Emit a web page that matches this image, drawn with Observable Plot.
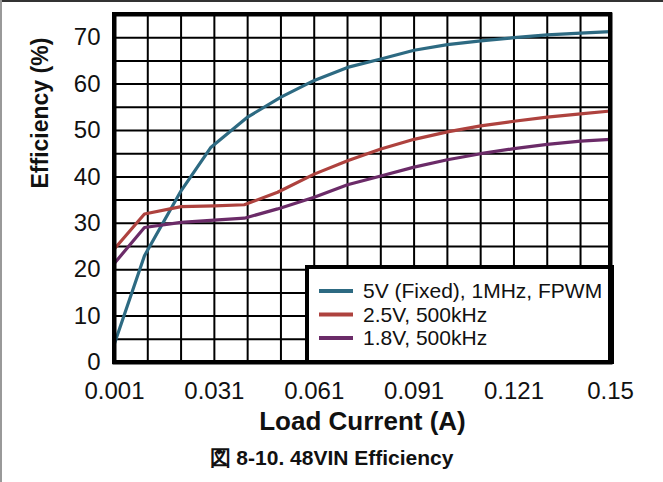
<!DOCTYPE html>
<html>
<head>
<meta charset="utf-8">
<script src="https://cdn.jsdelivr.net/npm/d3@7"></script>
<script src="https://cdn.jsdelivr.net/npm/@observablehq/plot@0.6"></script>
<style>
  html, body { margin: 0; padding: 0; background: white; }
  body { width: 663px; height: 482px; position: relative; overflow: hidden; font-family: "Liberation Sans", Arial, sans-serif; }
  #topline { position: absolute; left: 0; top: 0; width: 663px; height: 2px; background: #333; }
  #leftline { position: absolute; left: 0; top: 0; width: 2px; height: 482px; background: #999; }
  #caption { position: absolute; left: 0; top: 446px; width: 663px; text-align: center; font-weight: bold; font-size: 21px; line-height: 24px; color: #111; }
</style>
</head>
<body>
<div id="chart"></div>
<div id="topline"></div>
<div id="leftline"></div>
<div id="caption">図 8-10. 48VIN Efficiency</div>
<script>
// ---- data ----
const seriesNames = ["5V (Fixed), 1MHz, FPWM", "2.5V, 500kHz", "1.8V, 500kHz"];
const seriesColors = ["#2d6a82", "#ae423e", "#6b2b68"];

const blueX = [0.001, 0.010, 0.021, 0.030, 0.041, 0.051, 0.061, 0.071, 0.081, 0.091, 0.101, 0.111, 0.121, 0.131, 0.141, 0.150];
const blueY = [4.1, 23.0, 37.0, 46.4, 52.9, 57.2, 60.8, 63.6, 65.4, 67.3, 68.5, 69.3, 70.0, 70.6, 71.0, 71.3];

const redX = [0.001, 0.010, 0.021, 0.031, 0.040, 0.050, 0.061, 0.071, 0.081, 0.091, 0.101, 0.111, 0.121, 0.131, 0.141, 0.150];
const redY = [24.5, 32.0, 33.6, 33.75, 34.0, 36.7, 40.6, 43.5, 46.0, 48.1, 49.7, 51.0, 52.0, 52.9, 53.6, 54.2];

const purpleX = [0.001, 0.010, 0.021, 0.031, 0.040, 0.050, 0.061, 0.071, 0.081, 0.091, 0.101, 0.111, 0.121, 0.131, 0.141, 0.150];
const purpleY = [21.4, 29.1, 30.2, 30.7, 31.1, 33.1, 35.6, 38.3, 40.2, 42.1, 43.7, 45.0, 46.1, 47.0, 47.7, 48.1];

const xTicks = [0.001, 0.031, 0.061, 0.091, 0.121, 0.15];
const xTickLabels = ["0.001", "0.031", "0.061", "0.091", "0.121", "0.15"];
const xGrid = [0.011, 0.021, 0.031, 0.041, 0.051, 0.061, 0.071, 0.081, 0.091, 0.101, 0.111, 0.121, 0.131, 0.141];
const yTicks = [0, 10, 20, 30, 40, 50, 60, 70];
const yGrid = [5, 10, 15, 20, 25, 30, 35, 40, 45, 50, 55, 60, 65, 70];
const xLabel = "Load Current (A)";
const yLabel = "Efficiency (%)";

// ---- build table ----
const rows = [];
[[blueX, blueY], [redX, redY], [purpleX, purpleY]].forEach(([xs, ys], i) => {
  xs.forEach((x, j) => rows.push({series: seriesNames[i], x, y: ys[j]}));
});

const W = 663, H = 440;
const mL = 114, mR = 53, mT = 14, mB = 78;

const chart = Plot.plot({
  width: W, height: H,
  marginLeft: mL, marginRight: mR, marginTop: mT, marginBottom: mB,
  style: {fontFamily: "'Liberation Sans', Arial, sans-serif", fontSize: "24px", color: "black", background: "white"},
  x: {domain: [0.001, 0.15], label: null},
  y: {domain: [0, 75], label: null},
  color: {domain: seriesNames, range: seriesColors},
  marks: [
    Plot.ruleX(xGrid, {stroke: "black", strokeWidth: 2}),
    Plot.ruleY(yGrid, {stroke: "black", strokeWidth: 2}),
    Plot.line(rows, {x: "x", y: "y", z: "series", stroke: "series", strokeWidth: 3.2, strokeLinejoin: "round"}),
    Plot.frame({stroke: "black", strokeWidth: 4}),
    Plot.axisX({ticks: xTicks, tickFormat: d => xTickLabels[xTicks.indexOf(d)], tickSize: 0, tickPadding: 19, label: null, fill: "#111"}),
    Plot.axisY({ticks: yTicks, tickSize: 0, tickPadding: 14, label: null, fill: "#111"}),
    Plot.text([yLabel], {text: d => d, frameAnchor: "left", dx: -74, rotate: -90, fontWeight: "bold", fontSize: 23, fill: "#111"}),
    Plot.text([xLabel], {text: d => d, frameAnchor: "bottom", dy: 67, fontWeight: "bold", fontSize: 26, fill: "#111"})
  ]
});

// ---- legend box (inside plot frame, bottom-right) ----
const svg = d3.select(chart);
const right = W - mR + 2, bottom = H - mB;
const lw = 305, lh = 95;
const lx = right - lw, ly = bottom - lh;
const g = svg.append("g").attr("text-anchor", "start");
g.append("rect").attr("x", lx).attr("y", ly).attr("width", lw).attr("height", lh)
  .attr("fill", "white").attr("stroke", "black").attr("stroke-width", 4);
seriesNames.forEach((name, i) => {
  const cy = ly + 24 + i * 23.5;
  g.append("line").attr("x1", lx + 12).attr("x2", lx + 46).attr("y1", cy).attr("y2", cy)
    .attr("stroke", seriesColors[i]).attr("stroke-width", 4);
  g.append("text").attr("x", lx + 56).attr("y", cy).attr("dy", "0.35em")
    .attr("text-anchor", "start").attr("font-size", 21).attr("fill", "#111").text(name);
});
// redraw frame on top of legend edges
svg.append("rect").attr("x", mL).attr("y", mT).attr("width", W - mL - mR).attr("height", H - mT - mB)
  .attr("fill", "none").attr("stroke", "black").attr("stroke-width", 4);

document.getElementById("chart").appendChild(chart);
</script>
</body>
</html>
